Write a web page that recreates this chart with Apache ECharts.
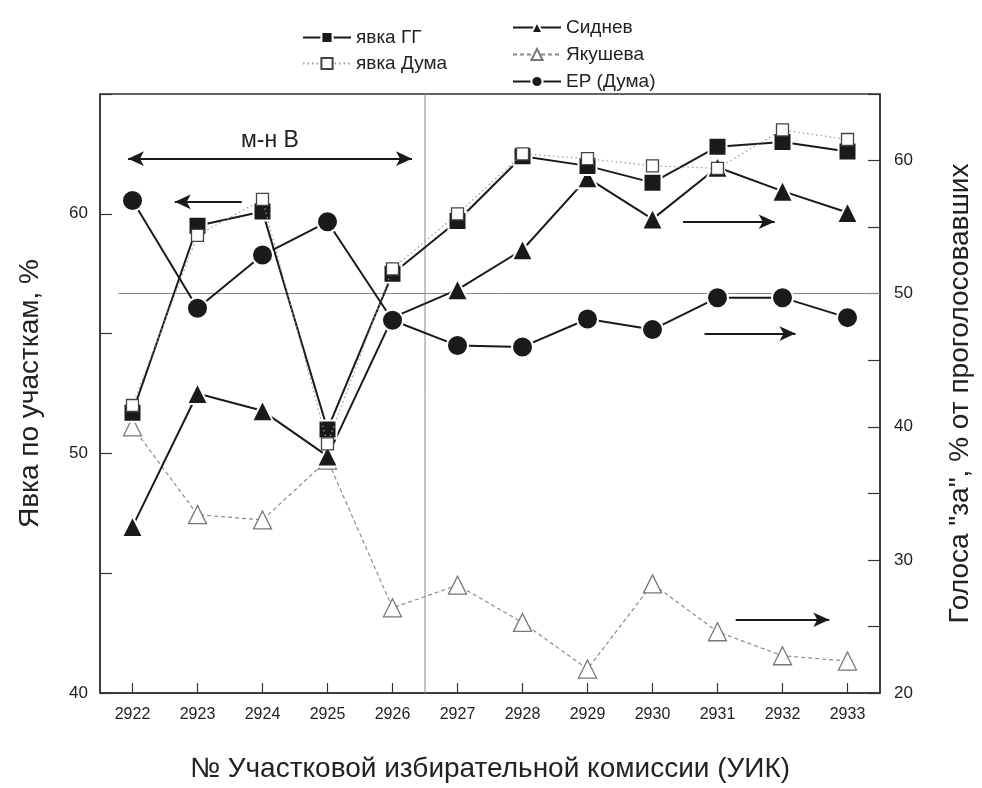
<!DOCTYPE html>
<html>
<head>
<meta charset="utf-8">
<script src="https://cdn.jsdelivr.net/npm/echarts@6/dist/echarts.min.js"></script>
<style>
html,body{margin:0;padding:0;background:#fff;}
#chart{width:982px;height:788px;}
</style>
</head>
<body>
<div id="chart"></div>
<script>
// ---- data ----
var categories = ['2922','2923','2924','2925','2926','2927','2928','2929','2930','2931','2932','2933'];
var yavkaGG   = [51.7, 59.5, 60.1, 51.0, 57.5, 59.7, 62.4, 62.0, 61.3, 62.8, 63.0, 62.6];
var yavkaDuma = [52.0, 59.1, 60.6, 50.4, 57.7, 60.0, 62.5, 62.3, 62.0, 61.9, 63.5, 63.1];
var sidnev    = [32.5, 42.5, 41.2, 37.8, 48.2, 50.3, 53.3, 58.7, 55.6, 59.5, 57.7, 56.1];
var yakusheva = [40.0, 33.4, 33.0, 37.5, 26.4, 28.1, 25.3, 21.8, 28.2, 24.6, 22.8, 22.4];
var erDuma    = [57.0, 48.9, 52.9, 55.4, 48.0, 46.1, 46.0, 48.1, 47.3, 49.7, 49.7, 48.2];
var leftTicks  = [40, 50, 60];
var rightTicks = [20, 30, 40, 50, 60];
// annotation positions (category index units, axis values)
var dividerX = 4.5;
var refLineRight = 50;
var districtArrow = {from: [-0.07, 62.3], to: [4.3, 62.3], text: 'м-н В'};
var leftArrow = {from: [1.68, 60.5], to: [0.65, 60.5]};
var rightArrows = [
  {from: [8.47, 55.4], to: [9.88, 55.4]},
  {from: [8.80, 47.0], to: [10.2, 47.0]},
  {from: [9.28, 25.5], to: [10.72, 25.5]}
];

var FONT = "'Liberation Sans', Arial, sans-serif";
var DARK = '#1a1a1a';

var chart = echarts.init(document.getElementById('chart'), null, {renderer: 'canvas'});

function arrowLine(a, sym) {
  return [{coord: a.from, symbol: sym[0]}, {coord: a.to, symbol: sym[1]}];
}

var option = {
  backgroundColor: '#fff',
  animation: false,
  textStyle: {fontFamily: FONT},
  legend: [
    {
      data: ['явка ГГ', 'явка Дума'],
      orient: 'vertical', left: 297, top: 23,
      itemWidth: 48, itemHeight: 14, itemGap: 7,
      textStyle: {fontFamily: FONT, fontSize: 19, color: '#222'}
    },
    {
      data: ['Сиднев', 'Якушева', 'ЕР (Дума)'],
      orient: 'vertical', left: 507, top: 13,
      itemWidth: 48, itemHeight: 14, itemGap: 8,
      textStyle: {fontFamily: FONT, fontSize: 19, color: '#222'}
    }
  ],
  grid: {left: 100, right: 99, top: 94, bottom: 94, show: true, borderColor: '#333', borderWidth: 1.5},
  xAxis: [
    {
      type: 'category', data: categories, boundaryGap: true,
      name: '№ Участковой избирательной комиссии (УИК)',
      nameLocation: 'middle', nameGap: 62,
      nameTextStyle: {fontFamily: FONT, fontSize: 28, color: '#222'},
      axisLine: {onZero: false, lineStyle: {color: '#333', width: 1.5}},
      axisTick: {show: true, inside: true, alignWithLabel: true, length: 10, lineStyle: {color: '#333', width: 1.2}},
      axisLabel: {fontFamily: FONT, fontSize: 16, color: '#222', margin: 14},
      splitLine: {show: false}
    },
    {
      type: 'value', min: -0.5, max: 11.5, show: false
    }
  ],
  yAxis: [
    {
      type: 'value', min: 40, max: 65, interval: 5, position: 'left',
      name: 'Явка по участкам, %', nameLocation: 'middle', nameGap: 56, nameRotate: 90,
      nameTextStyle: {fontFamily: FONT, fontSize: 28, color: '#222'},
      axisLine: {show: true, onZero: false, lineStyle: {color: '#333', width: 1.5}},
      axisTick: {show: true, inside: true, length: 12, lineStyle: {color: '#333', width: 1.2}},
      axisLabel: {
        fontFamily: FONT, fontSize: 17, color: '#222', margin: 12,
        formatter: function (v) { return leftTicks.indexOf(v) >= 0 ? String(v) : ''; }
      },
      splitLine: {show: false}
    },
    {
      type: 'value', min: 20, max: 65, interval: 5, position: 'right',
      name: 'Голоса "за", % от проголосовавших', nameLocation: 'middle', nameGap: 66, nameRotate: 90,
      nameTextStyle: {fontFamily: FONT, fontSize: 28, color: '#222'},
      axisLine: {show: true, onZero: false, lineStyle: {color: '#333', width: 1.5}},
      axisTick: {show: true, inside: true, length: 12, lineStyle: {color: '#333', width: 1.2}},
      axisLabel: {
        fontFamily: FONT, fontSize: 17, color: '#222', margin: 14,
        formatter: function (v) { return rightTicks.indexOf(v) >= 0 ? String(v) : ''; }
      },
      splitLine: {show: false}
    }
  ],
  series: [
    // reference lines and arrows (on the hidden value x axis)
    {
      name: 'divider', type: 'line', xAxisIndex: 1, yAxisIndex: 1,
      data: [[dividerX, 20], [dividerX, 65]],
      symbol: 'none', silent: true, z: 1,
      lineStyle: {color: '#8a8a8a', width: 1},
      markLine: {
        silent: true, symbol: 'none',
        lineStyle: {color: '#8a8a8a', width: 1, type: 'solid'},
        label: {show: false},
        data: [[{coord: [-0.22, refLineRight]}, {coord: [11.5, refLineRight]}]]
      }
    },
    {
      name: 'arrowsLeft', type: 'line', xAxisIndex: 1, yAxisIndex: 0,
      data: [], symbol: 'none', silent: true, z: 5,
      markLine: {
        silent: true, symbolSize: [11, 16],
        lineStyle: {color: DARK, width: 1.8, type: 'solid'},
        label: {show: false},
        data: [
          [{coord: districtArrow.from, symbol: 'arrow',
            label: {show: true, position: 'insideMiddleTop', formatter: districtArrow.text,
                    fontFamily: FONT, fontSize: 23, color: '#222', distance: 7}},
           {coord: districtArrow.to, symbol: 'arrow'}],
          arrowLine(leftArrow, ['none', 'arrow'])
        ]
      }
    },
    {
      name: 'arrowsRight', type: 'line', xAxisIndex: 1, yAxisIndex: 1,
      data: [], symbol: 'none', silent: true, z: 5,
      markLine: {
        silent: true, symbolSize: [11, 16],
        lineStyle: {color: DARK, width: 1.8, type: 'solid'},
        label: {show: false},
        data: rightArrows.map(function (a) { return arrowLine(a, ['none', 'arrow']); })
      }
    },
    // data series
    {
      name: 'Якушева', type: 'line', yAxisIndex: 1, data: yakusheva, z: 10,
      symbol: 'triangle', symbolSize: 18, showAllSymbol: true,
      lineStyle: {color: '#8a8a8a', width: 1.2, type: [4, 3]},
      itemStyle: {color: '#ffffff', borderColor: '#777', borderWidth: 1.3}
    },
    {
      name: 'Сиднев', type: 'line', yAxisIndex: 1, data: sidnev, z: 11,
      symbol: 'triangle', symbolSize: 21,
      lineStyle: {color: DARK, width: 2},
      itemStyle: {color: DARK, borderColor: '#fff', borderWidth: 2}
    },
    {
      name: 'явка ГГ', type: 'line', yAxisIndex: 0, data: yavkaGG, z: 12,
      symbol: 'rect', symbolSize: 18,
      lineStyle: {color: DARK, width: 2},
      itemStyle: {color: DARK, borderColor: '#fff', borderWidth: 2}
    },
    {
      name: 'явка Дума', type: 'line', yAxisIndex: 0, data: yavkaDuma, z: 13,
      symbol: 'rect', symbolSize: 12,
      lineStyle: {color: '#9a9a9a', width: 1.2, type: [1.5, 3]},
      itemStyle: {color: '#ffffff', borderColor: '#444', borderWidth: 1.3}
    },
    {
      name: 'ЕР (Дума)', type: 'line', yAxisIndex: 1, data: erDuma, z: 14,
      symbol: 'circle', symbolSize: 21,
      lineStyle: {color: DARK, width: 2},
      itemStyle: {color: DARK, borderColor: '#fff', borderWidth: 2}
    }
  ]
};
chart.setOption(option);
</script>
</body>
</html>
